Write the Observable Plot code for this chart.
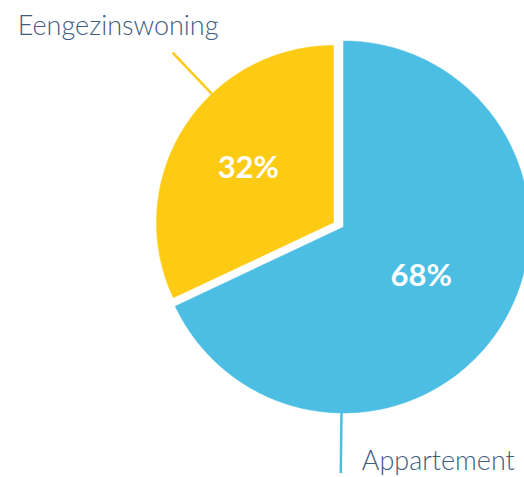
<!DOCTYPE html>
<html><head><meta charset="utf-8">
<script src="https://cdn.jsdelivr.net/npm/d3@7"></script>
<script src="https://cdn.jsdelivr.net/npm/@observablehq/plot@0.6"></script>
<style>body{margin:0;background:#fff} svg{display:block}</style>
</head><body><div id="chart"></div>
<script>
// ---- data ----
const categories = ["Appartement", "Eengezinswoning"];
const values = [68, 32];
const valueLabels = ["68%", "32%"];
const colors = ["#4cbee3", "#fdca14"];

// ---- layout (1 unit = radius of the blue slice) ----
const W = 524, H = 477;
const R = 186;               // px per unit
const cx0 = 343, cy0 = 226.5; // pixel position of the pie centre
const sliceCenter = [[0, 0], [-10 / R, -4.5 / R]];
const sliceRadius = [1, 177 / 186];
const labelRadius = [0.495, 0.57];
const leaderAngle = [Math.PI + 0.011, 2 * Math.PI - 0.758];
const leaderLength = [60 / R, 57 / R];
const nameOffset = [[21, -3], [-155, -18]];

const data = categories.map((c, i) => ({name: c, value: values[i], label: valueLabels[i], i}));
const arcs = d3.pie().sort(null).value(d => d.value)(data);

const polar = (i, r, a) => [sliceCenter[i][0] + r * Math.sin(a), sliceCenter[i][1] - r * Math.cos(a)];

const slicePts = [];
arcs.forEach(arc => {
  const i = arc.data.i, r = sliceRadius[i];
  const n = 240;
  slicePts.push({name: arc.data.name, x: sliceCenter[i][0], y: sliceCenter[i][1]});
  for (let k = 0; k <= n; k++) {
    const a = arc.startAngle + (arc.endAngle - arc.startAngle) * k / n;
    const [x, y] = polar(i, r, a);
    slicePts.push({name: arc.data.name, x, y});
  }
  slicePts.push({name: arc.data.name, x: sliceCenter[i][0], y: sliceCenter[i][1]});
});

const pctLabels = arcs.map(arc => {
  const i = arc.data.i;
  const mid = (arc.startAngle + arc.endAngle) / 2;
  const [x, y] = polar(i, sliceRadius[i] * labelRadius[i], mid);
  return {x, y, label: arc.data.label};
});

const leaders = arcs.map(arc => {
  const i = arc.data.i;
  const [x1, y1] = polar(i, sliceRadius[i], leaderAngle[i]);
  const [x2, y2] = polar(i, sliceRadius[i] + leaderLength[i], leaderAngle[i]);
  return {name: arc.data.name, x1, y1, x2, y2, dx: nameOffset[i][0], dy: nameOffset[i][1]};
});

const chart = Plot.plot({
  width: W, height: H,
  margin: 0,
  x: {type: "linear", domain: [-cx0 / R, (W - cx0) / R], range: [0, W], axis: null},
  y: {type: "linear", domain: [-cy0 / R, (H - cy0) / R], range: [0, H], axis: null},
  color: {domain: categories, range: colors},
  style: {background: "#fff"},
  marks: [
    Plot.line(slicePts, {x: "x", y: "y", z: "name", fill: "name", stroke: "name", strokeWidth: 0.5, curve: "linear-closed"}),
    Plot.link(leaders, {x1: "x1", y1: "y1", x2: "x2", y2: "y2", stroke: "name", strokeWidth: 2.5}),
    Plot.text(pctLabels, {x: "x", y: "y", text: "label", fill: "#fff", fontSize: 31, fontWeight: "bold",
      fontFamily: "Lato", lineAnchor: "middle", textAnchor: "middle"}),
    ...leaders.map(l => Plot.text([l], {x: "x2", y: "y2", text: "name", dx: l.dx, dy: l.dy,
      textAnchor: "start", lineAnchor: "bottom", fontSize: 27, fontWeight: 300, fontFamily: "Lato",
      fill: "#3f5d80", style: "letter-spacing:1.5px"}))
  ]
});
document.getElementById("chart").appendChild(chart);
</script>
</body></html>
